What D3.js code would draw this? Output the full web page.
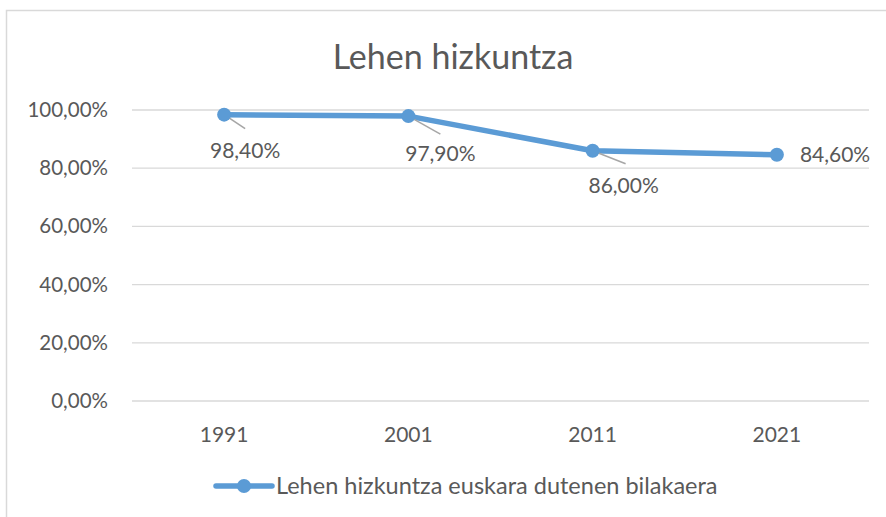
<!DOCTYPE html>
<html>
<head>
<meta charset="utf-8">
<script src="https://cdn.jsdelivr.net/npm/d3@7"></script>
<style>
  body { margin: 0; background: #fff; }
  text { font-family: "Lato", sans-serif; fill: #595959; }
</style>
</head>
<body>
<svg id="chart" width="886" height="517"></svg>
<script>
const years = ["1991", "2001", "2011", "2021"];
const values = [98.4, 97.9, 86.0, 84.6];
const valueLabels = ["98,40%", "97,90%", "86,00%", "84,60%"];
const yTicks = [0, 20, 40, 60, 80, 100];
const seriesName = "Lehen hizkuntza euskara dutenen bilakaera";
const title = "Lehen hizkuntza";

const svg = d3.select("#chart");
const color = "#5b9bd5";

// chart border (only top and left are visible in the crop)
svg.append("rect")
    .attr("x", 6.5).attr("y", 10.5)
    .attr("width", 900).attr("height", 600)
    .attr("fill", "none")
    .attr("stroke", "#d9d9d9")
    .attr("stroke-width", 1.5);

const margin = { top: 110, left: 132, right: 17, bottom: 116 };
const width = 886 - margin.left - margin.right;
const height = 517 - margin.top - margin.bottom;

const x = d3.scaleBand().domain(years).range([0, width]);
const y = d3.scaleLinear().domain([0, 100]).range([height, 0]);

const g = svg.append("g")
    .attr("transform", "translate(" + margin.left + "," + margin.top + ")");

// gridlines
g.selectAll("line.grid")
    .data(yTicks)
    .enter().append("line")
    .attr("class", "grid")
    .attr("x1", 0).attr("x2", width)
    .attr("y1", d => y(d)).attr("y2", d => y(d))
    .attr("stroke", "#d9d9d9")
    .attr("stroke-width", 1.3);

// y labels
g.selectAll("text.ylab")
    .data(yTicks)
    .enter().append("text")
    .attr("class", "ylab")
    .attr("x", -24)
    .attr("y", d => y(d) + 7)
    .attr("text-anchor", "end")
    .style("font-size", "20.5px")
    .text(d => d.toFixed(2).replace(".", ",") + "%");

// x labels
g.selectAll("text.xlab")
    .data(years)
    .enter().append("text")
    .attr("class", "xlab")
    .attr("x", d => x(d) + x.bandwidth() / 2)
    .attr("y", height + 41)
    .attr("text-anchor", "middle")
    .style("font-size", "21px")
    .text(d => d);

const cx = (d, i) => x(years[i]) + x.bandwidth() / 2;

const line = d3.line()
    .x((d, i) => cx(d, i))
    .y(d => y(d));

g.append("path")
    .datum(values)
    .attr("d", line)
    .attr("fill", "none")
    .attr("stroke", color)
    .attr("stroke-width", 5.5)
    .attr("stroke-linejoin", "round");

// leader lines for labels placed below right
const leaderEnds = [[21, 14], [32, 18], [33, 13], null];
g.selectAll("line.leader")
    .data(values.map((v, i) => ({ v: v, i: i })).filter(d => leaderEnds[d.i] !== null))
    .enter().append("line")
    .attr("class", "leader")
    .attr("x1", d => cx(d.v, d.i))
    .attr("y1", d => y(d.v))
    .attr("x2", d => cx(d.v, d.i) + leaderEnds[d.i][0])
    .attr("y2", d => y(d.v) + leaderEnds[d.i][1])
    .attr("stroke", "#a6a6a6")
    .attr("stroke-width", 1.5);

g.selectAll("circle.pt")
    .data(values)
    .enter().append("circle")
    .attr("class", "pt")
    .attr("cx", (d, i) => cx(d, i))
    .attr("cy", d => y(d))
    .attr("r", 7)
    .attr("fill", color);

// data labels: offset from point
const labelOffsets = [[21, 43, "middle"], [32, 45, "middle"], [31, 42, "middle"], [23, 7, "start"]];
g.selectAll("text.vlab")
    .data(values)
    .enter().append("text")
    .attr("class", "vlab")
    .attr("x", (d, i) => cx(d, i) + labelOffsets[i][0])
    .attr("y", (d, i) => y(d) + labelOffsets[i][1])
    .attr("text-anchor", (d, i) => labelOffsets[i][2])
    .style("font-size", "21px")
    .text((d, i) => valueLabels[i]);

// title
svg.append("text")
    .attr("x", 453)
    .attr("y", 69)
    .attr("text-anchor", "middle")
    .style("font-size", "34px")
    .text(title);

// legend
const leg = svg.append("g").attr("transform", "translate(216,486)");
leg.append("line")
    .attr("x1", 0).attr("x2", 56)
    .attr("y1", 0).attr("y2", 0)
    .attr("stroke", color)
    .attr("stroke-width", 5.5)
    .attr("stroke-linecap", "round");
leg.append("circle")
    .attr("cx", 28).attr("cy", 0).attr("r", 7)
    .attr("fill", color);
leg.append("text")
    .attr("x", 60)
    .attr("y", 8)
    .style("font-size", "23.5px")
    .text(seriesName);
</script>
</body>
</html>
